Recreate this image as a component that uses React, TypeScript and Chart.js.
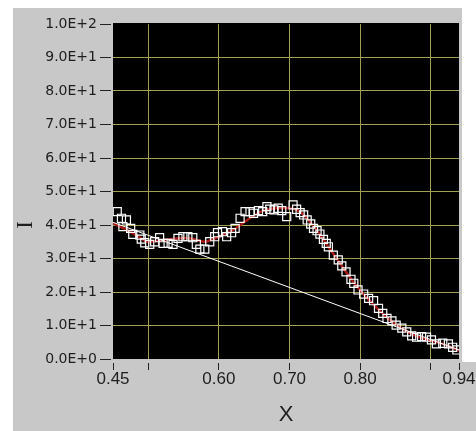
import React, { useEffect, useRef } from 'react';
import { Chart, registerables } from 'chart.js';

Chart.register(...registerables);

// Measured points (white hollow squares)
const squareX = [
  0.456, 0.462, 0.464, 0.469, 0.475, 0.478, 0.488, 0.49, 0.495, 0.502,
  0.509, 0.516, 0.521, 0.528, 0.535, 0.542, 0.549, 0.556, 0.563, 0.568,
  0.573, 0.58, 0.587, 0.594, 0.598, 0.605, 0.611, 0.618, 0.623, 0.63,
  0.637, 0.644, 0.649, 0.656, 0.662, 0.668, 0.672, 0.678, 0.684, 0.689,
  0.696, 0.705, 0.71, 0.715, 0.72, 0.725, 0.73, 0.734, 0.739, 0.743,
  0.748, 0.752, 0.755, 0.762, 0.769, 0.774, 0.78, 0.787, 0.791, 0.797,
  0.805, 0.812, 0.819, 0.826, 0.832, 0.838, 0.845, 0.851, 0.859, 0.866,
  0.873, 0.88, 0.887, 0.894, 0.901, 0.908, 0.917, 0.925, 0.931, 0.937,
];
const squareY = [
  44.0, 42.0, 39.5, 41.5, 39.0, 37.2, 37.0, 35.8, 34.7, 34.2,
  35.0, 36.2, 34.5, 34.5, 34.2, 36.0, 36.5, 36.5, 36.2, 34.2,
  32.8, 32.8, 35.0, 36.5, 37.7, 38.0, 36.5, 37.7, 39.0, 42.0,
  44.0, 44.0, 43.5, 44.3, 44.0, 45.5, 44.7, 44.5, 45.0, 44.3,
  42.5, 46.0, 44.7, 43.7, 43.0, 41.5, 40.3, 39.0, 38.3, 37.3,
  35.7, 34.5, 33.5, 31.0, 29.6, 27.8, 26.0, 23.8, 22.6, 20.6,
  19.4, 18.1, 17.4, 15.1, 13.6, 12.1, 11.4, 10.1, 9.2, 8.1,
  6.9, 6.5, 6.7, 6.5, 5.7, 4.5, 4.7, 4.5, 3.5, 2.7,
];

// Smoothed fit (dark red line)
const fitX = [
  0.45, 0.47, 0.49, 0.5, 0.52, 0.54, 0.56, 0.58, 0.6, 0.62,
  0.64, 0.66, 0.68, 0.7, 0.71, 0.72, 0.74, 0.76, 0.78, 0.8,
  0.82, 0.84, 0.86, 0.88, 0.9, 0.92, 0.94,
];
const fitY = [
  40.5, 38.5, 36.0, 35.0, 35.5, 36.0, 36.0, 35.0, 36.5, 38.5,
  41.5, 44.0, 45.0, 45.0, 44.5, 43.0, 38.0, 32.0, 26.0, 20.5,
  16.0, 12.0, 9.0, 6.8, 5.5, 4.3, 2.5,
];

// Straight baseline (white thin line)
const baselineX = [0.45, 0.94];
const baselineY = [40.8, 2.7];

const xTickValues = [0.45, 0.5, 0.6, 0.7, 0.8, 0.9, 0.94];
const xTickLabels = ['0.45', '', '0.60', '0.70', '0.80', '', '0.94'];
const yTickValues = [0, 10, 20, 30, 40, 50, 60, 70, 80, 90, 100];
const yTickLabels = [
  '0.0E+0', '1.0E+1', '2.0E+1', '3.0E+1', '4.0E+1', '5.0E+1',
  '6.0E+1', '7.0E+1', '8.0E+1', '9.0E+1', '1.0E+2',
];

const GRID = 'rgb(160,160,80)';
const PANEL = '#c8c8c8';
const TEXT = '#1e1e1e';

const pts = (xs: number[], ys: number[]) => xs.map((x, i) => ({ x, y: ys[i] }));

const panelPlugin = {
  id: 'panel',
  beforeDraw(chart: any) {
    const { ctx, chartArea } = chart;
    ctx.save();
    ctx.fillStyle = '#ffffff';
    ctx.fillRect(0, 0, chart.width, chart.height);
    ctx.fillStyle = PANEL;
    ctx.fillRect(13, 8, 449, chart.height - 8);
    ctx.fillRect(462, 362, chart.width - 462, chart.height - 362);
    ctx.fillStyle = '#000000';
    ctx.fillRect(chartArea.left, chartArea.top - 1, chartArea.right - chartArea.left, chartArea.bottom - chartArea.top + 1);
    ctx.restore();
  },
  afterDraw(chart: any) {
    const { ctx } = chart;
    ctx.save();
    ctx.translate(32, 225);
    ctx.rotate(-Math.PI / 2);
    ctx.fillStyle = TEXT;
    ctx.font = '23px "Liberation Serif"';
    ctx.textAlign = 'center';
    ctx.textBaseline = 'alphabetic';
    ctx.fillText('I', 0, 0);
    ctx.restore();
  },
};

export default function App() {
  const ref = useRef<HTMLCanvasElement>(null);

  useEffect(() => {
    if (!ref.current) return;
    const chart = new Chart(ref.current, {
      type: 'scatter',
      data: {
        datasets: [
          {
            label: 'fit',
            data: pts(fitX, fitY),
            showLine: true,
            borderColor: '#a81814',
            borderWidth: 2.5,
            pointRadius: 0,
            tension: 0.3,
            order: 3,
          },
          {
            label: 'baseline',
            data: pts(baselineX, baselineY),
            showLine: true,
            borderColor: '#ffffff',
            borderWidth: 1,
            pointRadius: 0,
            order: 2,
          },
          {
            label: 'data',
            data: pts(squareX, squareY),
            showLine: false,
            pointStyle: 'rect',
            pointRadius: 5.7,
            pointBorderWidth: 1.2,
            pointBorderColor: '#ffffff',
            pointBackgroundColor: 'rgba(0,0,0,0)',
            order: 1,
          },
        ],
      },
      options: {
        animation: false,
        responsive: false,
        devicePixelRatio: 1,
        layout: { padding: { left: 0, top: 24, right: 17, bottom: 0 } },
        plugins: { legend: { display: false }, tooltip: { enabled: false } },
        scales: {
          x: {
            type: 'linear',
            min: 0.45,
            max: 0.94,
            border: { display: false },
            afterBuildTicks: (scale: any) => {
              scale.ticks = xTickValues.map((v) => ({ value: v }));
            },
            afterFit: (scale: any) => {
              scale.height = 72;
              scale.paddingLeft = 0;
              scale.paddingRight = 0;
              scale.paddingTop = 0;
              scale.paddingBottom = 0;
            },
            grid: {
              color: (c: any) =>
                c.tick && (c.tick.value === 0.45 || c.tick.value === 0.94) ? 'rgba(0,0,0,0)' : GRID,
              lineWidth: 1,
              tickColor: '#222222',
              tickLength: 11,
              tickWidth: 1,
              tickBorderDash: [0, 4, 7, 100],
            },
            ticks: {
              autoSkip: false,
              maxRotation: 0,
              minRotation: 0,
              padding: 1,
              color: TEXT,
              font: { family: '"Liberation Sans", Arial, sans-serif', size: 17, lineHeight: 1 },
              callback: (v: any) => {
                const i = xTickValues.findIndex((t) => Math.abs(t - Number(v)) < 1e-9);
                return i >= 0 ? xTickLabels[i] : '';
              },
            },
            title: {
              display: true,
              text: 'X',
              color: TEXT,
              font: { family: '"Liberation Sans", Arial, sans-serif', size: 22 },
              padding: { top: 0, bottom: 3 },
            },
          },
          y: {
            type: 'linear',
            min: 0,
            max: 100,
            border: { display: false },
            afterBuildTicks: (scale: any) => {
              scale.ticks = yTickValues.map((v) => ({ value: v }));
            },
            afterFit: (scale: any) => {
              scale.width = 113;
              scale.paddingLeft = 0;
              scale.paddingRight = 0;
              scale.paddingTop = 0;
              scale.paddingBottom = 0;
            },
            grid: {
              color: (c: any) =>
                c.tick && (c.tick.value === 0 || c.tick.value === 100) ? 'rgba(0,0,0,0)' : GRID,
              lineWidth: 1,
              tickColor: '#222222',
              tickLength: 13,
              tickWidth: 1,
              tickBorderDash: [11, 100],
            },
            ticks: {
              autoSkip: false,
              padding: 3,
              color: TEXT,
              font: { family: '"DejaVu Sans"', size: 14 },
              callback: (v: any) => {
                const i = yTickValues.findIndex((t) => Math.abs(t - Number(v)) < 1e-9);
                return i >= 0 ? yTickLabels[i] : '';
              },
            },
          },
        },
      },
      plugins: [panelPlugin],
    });
    return () => chart.destroy();
  }, []);

  return (
    <div style={{ position: 'absolute', left: 0, top: 0, width: 476, height: 431 }}>
      <canvas ref={ref} width={476} height={431} style={{ display: 'block' }} />
    </div>
  );
}
